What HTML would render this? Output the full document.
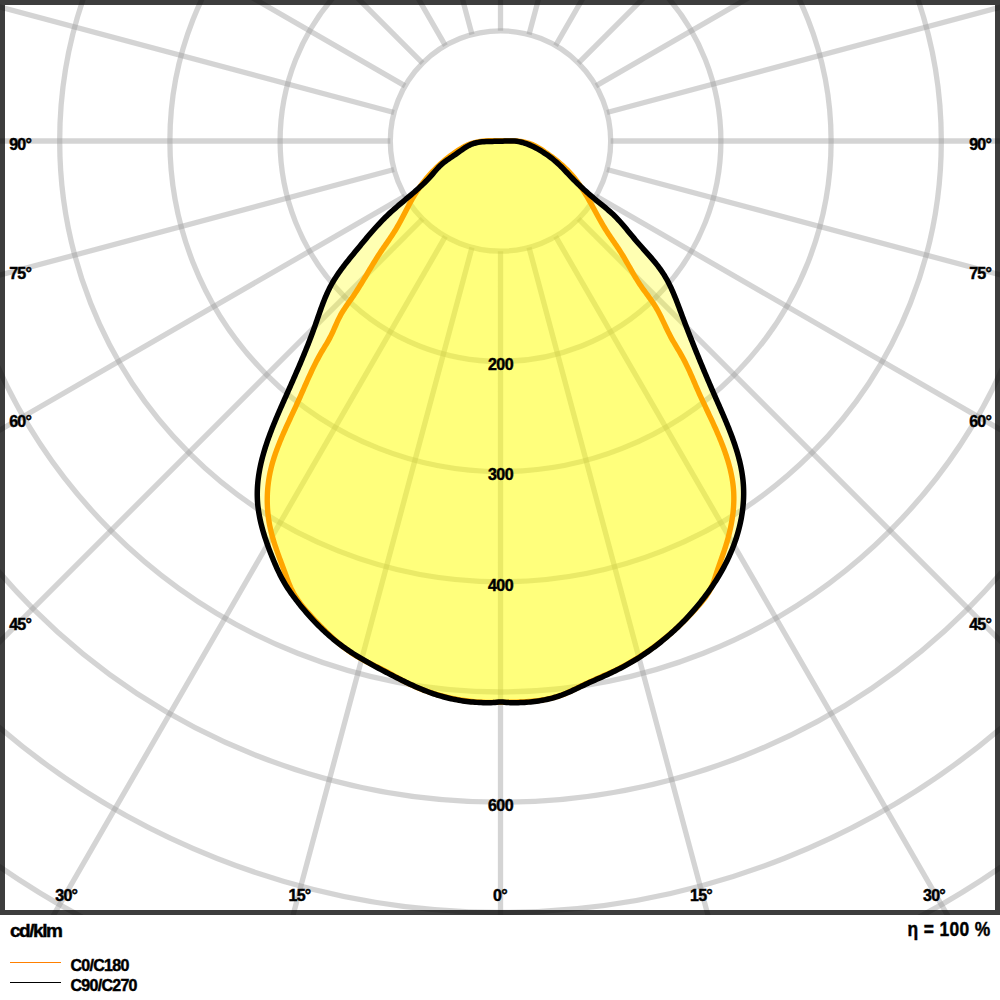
<!DOCTYPE html>
<html><head><meta charset="utf-8"><style>
html,body{margin:0;padding:0;background:#fff;}
svg{display:block;}
text{font-family:"Liberation Sans",sans-serif;font-weight:bold;fill:#000;stroke:#000;stroke-width:0.45px;}
</style></head><body>
<svg width="1000" height="1000" viewBox="0 0 1000 1000">
<defs><clipPath id="c"><rect x="0" y="0" width="1000" height="915"/></clipPath></defs>
<rect x="0" y="0" width="1000" height="1000" fill="#fff"/>
<g clip-path="url(#c)" fill="none" stroke="rgba(160,160,160,0.45)" stroke-width="5.3">
<g><circle cx="500.5" cy="141.0" r="110.2"/><circle cx="500.5" cy="141.0" r="220.4"/><circle cx="500.5" cy="141.0" r="330.6"/><circle cx="500.5" cy="141.0" r="440.8"/><circle cx="500.5" cy="141.0" r="551.0"/><circle cx="500.5" cy="141.0" r="661.2"/><circle cx="500.5" cy="141.0" r="771.4"/><circle cx="500.5" cy="141.0" r="881.6"/><circle cx="500.5" cy="141.0" r="991.8"/></g>
<path d="M500.50,251.20L500.50,1541.00M529.02,247.45L862.85,1493.30M555.60,236.44L1200.50,1353.44M578.42,218.92L1490.45,1130.95M595.94,196.10L1712.94,841.00M606.95,169.52L1852.80,503.35M610.70,141.00L1900.50,141.00M606.95,112.48L1852.80,-221.35M595.94,85.90L1712.94,-559.00M578.42,63.08L1490.45,-848.95M555.60,45.56L1200.50,-1071.44M529.02,34.55L862.85,-1211.30M500.50,30.80L500.50,-1259.00M471.98,34.55L138.15,-1211.30M445.40,45.56L-199.50,-1071.44M422.58,63.08L-489.45,-848.95M405.06,85.90L-711.94,-559.00M394.05,112.48L-851.80,-221.35M390.30,141.00L-899.50,141.00M394.05,169.52L-851.80,503.35M405.06,196.10L-711.94,841.00M422.58,218.92L-489.45,1130.95M445.40,236.44L-199.50,1353.44M471.98,247.45L138.15,1493.30"/>
</g>
<rect x="2.5" y="2.5" width="995" height="910" fill="none" stroke="rgba(0,0,0,0.76)" stroke-width="5"/>
<path d="M500.59,141.28 L498.52,141.33 L496.46,141.35 L494.39,141.36 L492.33,141.38 L490.28,141.40 L488.23,141.44 L486.20,141.52 L484.19,141.63 L482.19,141.80 L480.22,142.04 L478.27,142.35 L476.35,142.74 L474.45,143.24 L472.60,143.84 L470.77,144.55 L468.99,145.40 L467.24,146.35 L465.51,147.39 L463.81,148.50 L462.13,149.66 L460.46,150.86 L458.79,152.07 L457.12,153.27 L455.45,154.45 L453.77,155.59 L452.09,156.71 L450.42,157.82 L448.76,158.93 L447.13,160.05 L445.52,161.20 L443.95,162.40 L442.42,163.64 L440.94,164.96 L439.51,166.34 L438.13,167.77 L436.78,169.25 L435.44,170.77 L434.12,172.30 L432.80,173.83 L431.47,175.36 L430.13,176.87 L428.76,178.36 L427.37,179.82 L425.96,181.26 L424.53,182.68 L423.09,184.09 L421.63,185.47 L420.15,186.84 L418.67,188.20 L417.17,189.54 L415.66,190.88 L414.15,192.20 L412.62,193.51 L411.09,194.82 L409.55,196.12 L408.01,197.42 L406.47,198.71 L404.93,200.00 L403.39,201.29 L401.85,202.59 L400.31,203.88 L398.78,205.18 L397.25,206.49 L395.73,207.80 L394.22,209.12 L392.71,210.45 L391.22,211.80 L389.74,213.15 L388.28,214.52 L386.83,215.90 L385.39,217.30 L383.97,218.72 L382.56,220.15 L381.17,221.59 L379.78,223.04 L378.41,224.51 L377.05,225.99 L375.70,227.48 L374.36,228.98 L373.03,230.48 L371.70,232.00 L370.39,233.52 L369.08,235.05 L367.78,236.59 L366.48,238.13 L365.18,239.67 L363.89,241.22 L362.61,242.78 L361.32,244.33 L360.04,245.89 L358.76,247.44 L357.48,249.00 L356.20,250.56 L354.92,252.11 L353.64,253.67 L352.36,255.23 L351.09,256.78 L349.82,258.34 L348.55,259.91 L347.30,261.48 L346.05,263.05 L344.82,264.63 L343.60,266.22 L342.39,267.82 L341.20,269.43 L340.03,271.04 L338.88,272.67 L337.74,274.32 L336.63,275.97 L335.55,277.65 L334.48,279.33 L333.45,281.04 L332.44,282.76 L331.47,284.50 L330.52,286.26 L329.60,288.04 L328.72,289.84 L327.86,291.66 L327.02,293.49 L326.21,295.33 L325.42,297.19 L324.65,299.06 L323.89,300.94 L323.16,302.83 L322.44,304.73 L321.73,306.63 L321.03,308.55 L320.34,310.46 L319.67,312.38 L318.99,314.31 L318.32,316.23 L317.66,318.15 L316.99,320.08 L316.33,322.00 L315.66,323.91 L314.99,325.83 L314.31,327.73 L313.63,329.63 L312.94,331.53 L312.24,333.42 L311.54,335.30 L310.83,337.18 L310.12,339.05 L309.40,340.92 L308.68,342.78 L307.95,344.64 L307.22,346.50 L306.48,348.35 L305.73,350.20 L304.98,352.04 L304.23,353.89 L303.47,355.73 L302.71,357.56 L301.95,359.40 L301.18,361.23 L300.40,363.06 L299.63,364.89 L298.84,366.72 L298.06,368.55 L297.27,370.38 L296.48,372.21 L295.69,374.03 L294.89,375.86 L294.09,377.69 L293.29,379.51 L292.49,381.34 L291.68,383.17 L290.87,385.00 L290.06,386.83 L289.25,388.67 L288.43,390.50 L287.62,392.34 L286.80,394.18 L285.98,396.03 L285.16,397.87 L284.34,399.73 L283.52,401.58 L282.69,403.44 L281.87,405.30 L281.05,407.16 L280.24,409.02 L279.42,410.89 L278.62,412.77 L277.81,414.64 L277.01,416.52 L276.22,418.40 L275.43,420.29 L274.65,422.18 L273.88,424.07 L273.11,425.96 L272.36,427.86 L271.61,429.76 L270.88,431.66 L270.16,433.56 L269.45,435.47 L268.75,437.38 L268.07,439.29 L267.40,441.21 L266.74,443.13 L266.10,445.05 L265.48,446.97 L264.88,448.90 L264.29,450.82 L263.72,452.75 L263.17,454.69 L262.64,456.62 L262.13,458.56 L261.64,460.50 L261.18,462.44 L260.73,464.39 L260.31,466.33 L259.91,468.28 L259.54,470.24 L259.20,472.19 L258.88,474.14 L258.58,476.10 L258.32,478.06 L258.08,480.02 L257.87,481.99 L257.69,483.95 L257.54,485.92 L257.43,487.89 L257.34,489.86 L257.29,491.83 L257.26,493.81 L257.28,495.78 L257.33,497.76 L257.41,499.74 L257.53,501.72 L257.68,503.71 L257.87,505.69 L258.10,507.68 L258.36,509.66 L258.65,511.65 L258.98,513.64 L259.33,515.62 L259.72,517.61 L260.13,519.59 L260.57,521.57 L261.03,523.55 L261.53,525.52 L262.04,527.50 L262.58,529.47 L263.14,531.43 L263.72,533.39 L264.32,535.35 L264.94,537.30 L265.58,539.25 L266.23,541.19 L266.90,543.12 L267.59,545.05 L268.28,546.97 L268.99,548.88 L269.71,550.79 L270.45,552.68 L271.18,554.57 L271.93,556.45 L272.69,558.32 L273.45,560.18 L274.22,562.03 L275.00,563.87 L275.80,565.70 L276.61,567.52 L277.43,569.33 L278.27,571.12 L279.13,572.91 L280.00,574.68 L280.90,576.44 L281.82,578.19 L282.76,579.93 L283.73,581.65 L284.72,583.37 L285.74,585.06 L286.79,586.75 L287.87,588.42 L288.97,590.08 L290.10,591.73 L291.24,593.37 L292.41,595.00 L293.60,596.62 L294.80,598.23 L296.02,599.83 L297.25,601.42 L298.50,603.01 L299.75,604.59 L301.02,606.16 L302.30,607.72 L303.60,609.27 L304.90,610.82 L306.22,612.35 L307.55,613.88 L308.89,615.39 L310.24,616.90 L311.60,618.39 L312.98,619.88 L314.37,621.35 L315.77,622.81 L317.18,624.26 L318.60,625.69 L320.04,627.11 L321.49,628.52 L322.95,629.92 L324.42,631.30 L325.90,632.67 L327.40,634.02 L328.91,635.36 L330.42,636.69 L331.96,637.99 L333.50,639.29 L335.05,640.56 L336.62,641.82 L338.20,643.06 L339.79,644.28 L341.40,645.49 L343.01,646.68 L344.64,647.85 L346.28,649.00 L347.93,650.13 L349.59,651.25 L351.26,652.36 L352.94,653.44 L354.63,654.52 L356.33,655.58 L358.03,656.63 L359.75,657.66 L361.47,658.69 L363.20,659.70 L364.93,660.71 L366.68,661.70 L368.42,662.68 L370.18,663.66 L371.93,664.63 L373.70,665.59 L375.46,666.55 L377.23,667.50 L379.01,668.45 L380.78,669.39 L382.56,670.33 L384.34,671.27 L386.12,672.20 L387.91,673.14 L389.69,674.07 L391.48,674.99 L393.26,675.92 L395.05,676.84 L396.85,677.75 L398.64,678.66 L400.44,679.56 L402.24,680.45 L404.04,681.34 L405.85,682.21 L407.66,683.08 L409.48,683.94 L411.30,684.78 L413.13,685.62 L414.96,686.44 L416.80,687.25 L418.64,688.04 L420.49,688.82 L422.34,689.58 L424.20,690.33 L426.07,691.06 L427.94,691.77 L429.82,692.47 L431.71,693.14 L433.61,693.80 L435.51,694.43 L437.43,695.05 L439.35,695.64 L441.28,696.21 L443.22,696.76 L445.16,697.28 L447.12,697.78 L449.08,698.25 L451.05,698.70 L453.03,699.13 L455.01,699.54 L456.99,699.92 L458.99,700.27 L460.98,700.61 L462.98,700.91 L464.98,701.20 L466.99,701.46 L468.99,701.69 L471.00,701.90 L473.01,702.09 L475.02,702.25 L477.02,702.38 L479.03,702.49 L481.04,702.58 L483.04,702.64 L485.04,702.68 L487.04,702.69 L489.04,702.68 L491.03,702.63 L493.01,702.55 L494.97,702.40 L496.90,702.19 L498.82,701.99 L500.73,701.91 L502.64,702.02 L504.56,702.24 L506.50,702.43 L508.45,702.56 L510.42,702.63 L512.41,702.67 L514.40,702.68 L516.40,702.67 L518.40,702.64 L520.41,702.58 L522.43,702.51 L524.44,702.41 L526.46,702.28 L528.48,702.13 L530.49,701.95 L532.51,701.74 L534.52,701.51 L536.54,701.25 L538.54,700.96 L540.54,700.64 L542.54,700.29 L544.53,699.91 L546.51,699.50 L548.48,699.05 L550.44,698.58 L552.39,698.07 L554.33,697.52 L556.25,696.95 L558.16,696.33 L560.06,695.68 L561.94,695.00 L563.80,694.28 L565.66,693.53 L567.50,692.76 L569.33,691.96 L571.16,691.15 L572.98,690.31 L574.79,689.47 L576.60,688.61 L578.41,687.75 L580.22,686.89 L582.03,686.02 L583.84,685.16 L585.66,684.31 L587.48,683.46 L589.31,682.62 L591.15,681.79 L592.98,680.97 L594.82,680.15 L596.66,679.34 L598.51,678.52 L600.35,677.71 L602.19,676.89 L604.03,676.07 L605.87,675.24 L607.71,674.41 L609.54,673.56 L611.36,672.71 L613.18,671.85 L614.99,670.97 L616.80,670.08 L618.60,669.17 L620.38,668.26 L622.17,667.32 L623.94,666.37 L625.71,665.41 L627.46,664.44 L629.21,663.45 L630.96,662.44 L632.69,661.43 L634.42,660.39 L636.13,659.35 L637.84,658.29 L639.54,657.21 L641.23,656.12 L642.91,655.02 L644.59,653.91 L646.25,652.78 L647.90,651.63 L649.55,650.47 L651.19,649.30 L652.81,648.12 L654.43,646.92 L656.04,645.71 L657.64,644.48 L659.22,643.24 L660.80,641.99 L662.37,640.73 L663.93,639.45 L665.48,638.16 L667.02,636.86 L668.54,635.54 L670.06,634.22 L671.57,632.88 L673.06,631.53 L674.54,630.16 L676.02,628.79 L677.48,627.40 L678.93,626.00 L680.37,624.59 L681.80,623.17 L683.22,621.74 L684.62,620.30 L686.02,618.84 L687.40,617.37 L688.77,615.90 L690.13,614.41 L691.48,612.91 L692.81,611.40 L694.13,609.89 L695.44,608.36 L696.74,606.82 L698.03,605.27 L699.30,603.71 L700.56,602.14 L701.80,600.56 L703.04,598.97 L704.26,597.38 L705.47,595.77 L706.66,594.15 L707.84,592.53 L709.01,590.89 L710.16,589.25 L711.30,587.60 L712.43,585.94 L713.54,584.27 L714.64,582.59 L715.72,580.90 L716.79,579.20 L717.84,577.50 L718.88,575.78 L719.90,574.06 L720.90,572.33 L721.89,570.59 L722.86,568.83 L723.81,567.07 L724.74,565.30 L725.66,563.52 L726.56,561.73 L727.44,559.93 L728.30,558.13 L729.14,556.31 L729.96,554.48 L730.76,552.64 L731.54,550.79 L732.30,548.93 L733.04,547.06 L733.75,545.19 L734.45,543.30 L735.12,541.40 L735.77,539.49 L736.40,537.57 L737.01,535.64 L737.59,533.70 L738.15,531.75 L738.68,529.79 L739.19,527.82 L739.67,525.85 L740.13,523.87 L740.56,521.88 L740.97,519.89 L741.35,517.89 L741.70,515.89 L742.02,513.88 L742.32,511.87 L742.59,509.86 L742.82,507.85 L743.03,505.83 L743.21,503.82 L743.36,501.80 L743.48,499.79 L743.57,497.78 L743.63,495.76 L743.66,493.75 L743.65,491.75 L743.61,489.75 L743.54,487.75 L743.44,485.75 L743.30,483.77 L743.13,481.78 L742.93,479.80 L742.70,477.83 L742.44,475.86 L742.15,473.90 L741.84,471.94 L741.49,469.98 L741.12,468.03 L740.73,466.08 L740.30,464.14 L739.86,462.20 L739.39,460.26 L738.90,458.33 L738.38,456.40 L737.85,454.48 L737.29,452.56 L736.72,450.64 L736.12,448.73 L735.51,446.82 L734.88,444.91 L734.23,443.01 L733.57,441.11 L732.89,439.21 L732.20,437.31 L731.50,435.42 L730.78,433.53 L730.05,431.65 L729.31,429.76 L728.56,427.88 L727.80,426.00 L727.03,424.12 L726.25,422.25 L725.47,420.38 L724.67,418.51 L723.88,416.64 L723.08,414.77 L722.27,412.91 L721.46,411.05 L720.65,409.19 L719.83,407.33 L719.02,405.47 L718.20,403.61 L717.38,401.76 L716.57,399.90 L715.76,398.05 L714.95,396.20 L714.14,394.35 L713.33,392.50 L712.53,390.65 L711.73,388.80 L710.93,386.95 L710.14,385.11 L709.35,383.26 L708.56,381.42 L707.77,379.57 L706.99,377.72 L706.20,375.88 L705.42,374.03 L704.65,372.19 L703.87,370.34 L703.10,368.50 L702.33,366.65 L701.56,364.80 L700.80,362.96 L700.03,361.11 L699.27,359.26 L698.51,357.41 L697.76,355.56 L697.01,353.71 L696.25,351.86 L695.50,350.01 L694.76,348.15 L694.01,346.30 L693.27,344.44 L692.53,342.58 L691.79,340.72 L691.05,338.86 L690.32,337.00 L689.59,335.13 L688.86,333.27 L688.13,331.40 L687.41,329.53 L686.68,327.66 L685.96,325.78 L685.24,323.90 L684.52,322.02 L683.81,320.14 L683.09,318.26 L682.38,316.37 L681.67,314.48 L680.96,312.59 L680.26,310.69 L679.55,308.80 L678.84,306.90 L678.12,305.01 L677.40,303.11 L676.67,301.23 L675.93,299.34 L675.18,297.46 L674.42,295.59 L673.64,293.73 L672.85,291.88 L672.04,290.04 L671.20,288.20 L670.35,286.39 L669.47,284.58 L668.57,282.79 L667.64,281.02 L666.68,279.27 L665.69,277.53 L664.67,275.81 L663.61,274.12 L662.52,272.45 L661.40,270.79 L660.24,269.16 L659.06,267.54 L657.85,265.94 L656.61,264.36 L655.36,262.79 L654.08,261.23 L652.79,259.68 L651.48,258.14 L650.16,256.61 L648.82,255.09 L647.48,253.57 L646.14,252.06 L644.79,250.55 L643.43,249.04 L642.08,247.53 L640.73,246.02 L639.39,244.51 L638.05,242.99 L636.72,241.46 L635.41,239.93 L634.11,238.40 L632.82,236.85 L631.53,235.30 L630.26,233.75 L628.99,232.20 L627.71,230.65 L626.44,229.11 L625.16,227.57 L623.88,226.04 L622.58,224.52 L621.27,223.01 L619.95,221.52 L618.60,220.04 L617.24,218.59 L615.85,217.15 L614.44,215.74 L612.99,214.36 L611.52,213.00 L610.02,211.66 L608.50,210.34 L606.97,209.03 L605.41,207.74 L603.85,206.46 L602.28,205.18 L600.71,203.90 L599.14,202.62 L597.57,201.34 L596.00,200.05 L594.45,198.76 L592.91,197.45 L591.37,196.14 L589.84,194.82 L588.32,193.49 L586.82,192.15 L585.32,190.81 L583.83,189.45 L582.35,188.09 L580.88,186.72 L579.42,185.34 L577.97,183.95 L576.54,182.55 L575.11,181.14 L573.70,179.72 L572.30,178.30 L570.91,176.86 L569.53,175.42 L568.17,173.96 L566.80,172.51 L565.44,171.05 L564.07,169.60 L562.69,168.17 L561.28,166.74 L559.86,165.34 L558.41,163.97 L556.92,162.62 L555.41,161.29 L553.87,160.00 L552.30,158.73 L550.71,157.49 L549.09,156.28 L547.45,155.11 L545.78,153.96 L544.10,152.84 L542.40,151.75 L540.67,150.69 L538.93,149.67 L537.18,148.68 L535.41,147.72 L533.62,146.80 L531.82,145.94 L529.99,145.12 L528.16,144.36 L526.30,143.66 L524.43,143.03 L522.54,142.47 L520.63,142.00 L518.70,141.60 L516.75,141.30 L514.78,141.09 L512.80,140.98 L510.79,140.95 L508.77,140.97 L506.74,141.03 L504.70,141.12 L502.65,141.21 L500.59,141.28Z" fill="rgba(255,255,0,0.30)"/>
<path d="M500.50,140.60 L498.47,140.60 L496.46,140.61 L494.44,140.63 L492.43,140.66 L490.43,140.71 L488.44,140.79 L486.46,140.90 L484.49,141.05 L482.53,141.25 L480.59,141.49 L478.67,141.79 L476.77,142.15 L474.88,142.58 L473.02,143.08 L471.17,143.66 L469.36,144.32 L467.57,145.07 L465.80,145.89 L464.05,146.78 L462.33,147.73 L460.62,148.74 L458.94,149.79 L457.27,150.88 L455.62,152.01 L453.99,153.15 L452.37,154.32 L450.77,155.51 L449.18,156.71 L447.61,157.94 L446.06,159.18 L444.53,160.45 L443.01,161.73 L441.51,163.04 L440.03,164.36 L438.57,165.70 L437.12,167.06 L435.70,168.44 L434.29,169.83 L432.91,171.25 L431.55,172.68 L430.20,174.14 L428.88,175.61 L427.58,177.09 L426.31,178.60 L425.05,180.12 L423.82,181.66 L422.61,183.22 L421.42,184.80 L420.26,186.39 L419.12,188.00 L418.01,189.63 L416.92,191.27 L415.85,192.93 L414.81,194.61 L413.80,196.30 L412.80,198.00 L411.82,199.72 L410.85,201.44 L409.90,203.18 L408.96,204.92 L408.03,206.67 L407.11,208.42 L406.19,210.18 L405.28,211.93 L404.37,213.69 L403.45,215.45 L402.53,217.21 L401.61,218.96 L400.68,220.70 L399.73,222.44 L398.78,224.18 L397.81,225.90 L396.83,227.61 L395.83,229.31 L394.80,231.00 L393.76,232.67 L392.69,234.33 L391.61,235.98 L390.51,237.62 L389.40,239.25 L388.29,240.87 L387.16,242.50 L386.04,244.12 L384.91,245.74 L383.78,247.36 L382.66,248.98 L381.55,250.61 L380.45,252.25 L379.36,253.90 L378.29,255.55 L377.23,257.21 L376.17,258.88 L375.13,260.56 L374.09,262.24 L373.07,263.93 L372.04,265.62 L371.03,267.31 L370.01,269.01 L369.00,270.70 L367.99,272.40 L366.98,274.10 L365.97,275.80 L364.96,277.50 L363.94,279.20 L362.92,280.89 L361.89,282.58 L360.86,284.27 L359.82,285.95 L358.78,287.63 L357.72,289.30 L356.65,290.96 L355.57,292.62 L354.47,294.26 L353.36,295.90 L352.24,297.53 L351.11,299.15 L349.97,300.77 L348.82,302.39 L347.69,304.01 L346.56,305.63 L345.45,307.26 L344.36,308.90 L343.29,310.56 L342.25,312.23 L341.25,313.93 L340.29,315.65 L339.38,317.39 L338.50,319.16 L337.66,320.95 L336.84,322.75 L336.03,324.56 L335.23,326.37 L334.43,328.18 L333.63,329.99 L332.81,331.79 L331.97,333.59 L331.11,335.37 L330.23,337.13 L329.30,338.88 L328.35,340.60 L327.37,342.31 L326.36,344.01 L325.34,345.71 L324.32,347.39 L323.30,349.08 L322.28,350.77 L321.28,352.47 L320.30,354.18 L319.33,355.90 L318.39,357.63 L317.46,359.37 L316.54,361.11 L315.64,362.87 L314.76,364.63 L313.88,366.40 L313.02,368.18 L312.17,369.96 L311.32,371.75 L310.49,373.54 L309.66,375.33 L308.84,377.13 L308.03,378.94 L307.22,380.74 L306.42,382.55 L305.61,384.36 L304.82,386.17 L304.02,387.98 L303.23,389.80 L302.43,391.61 L301.63,393.42 L300.84,395.23 L300.04,397.03 L299.23,398.84 L298.43,400.64 L297.62,402.44 L296.80,404.23 L295.98,406.02 L295.15,407.81 L294.32,409.60 L293.49,411.38 L292.66,413.17 L291.83,414.95 L291.00,416.73 L290.16,418.52 L289.33,420.31 L288.51,422.10 L287.68,423.89 L286.86,425.68 L286.04,427.48 L285.23,429.28 L284.42,431.09 L283.62,432.90 L282.82,434.72 L282.04,436.54 L281.27,438.37 L280.50,440.20 L279.75,442.04 L279.01,443.89 L278.28,445.73 L277.57,447.59 L276.88,449.45 L276.20,451.31 L275.54,453.18 L274.90,455.06 L274.28,456.94 L273.68,458.83 L273.10,460.72 L272.55,462.62 L272.01,464.53 L271.51,466.44 L271.03,468.36 L270.58,470.28 L270.15,472.21 L269.76,474.14 L269.39,476.09 L269.06,478.03 L268.75,479.98 L268.47,481.94 L268.22,483.90 L267.99,485.86 L267.80,487.82 L267.64,489.79 L267.50,491.76 L267.40,493.73 L267.32,495.71 L267.27,497.68 L267.25,499.65 L267.26,501.63 L267.30,503.60 L267.37,505.57 L267.47,507.54 L267.59,509.51 L267.75,511.48 L267.93,513.44 L268.15,515.40 L268.39,517.36 L268.66,519.31 L268.96,521.26 L269.29,523.20 L269.65,525.14 L270.04,527.07 L270.45,528.99 L270.90,530.91 L271.37,532.83 L271.87,534.73 L272.39,536.64 L272.93,538.54 L273.49,540.43 L274.07,542.32 L274.67,544.21 L275.29,546.09 L275.92,547.97 L276.57,549.84 L277.22,551.72 L277.89,553.59 L278.56,555.46 L279.25,557.33 L279.94,559.20 L280.63,561.06 L281.33,562.93 L282.03,564.80 L282.72,566.66 L283.42,568.53 L284.12,570.40 L284.81,572.26 L285.49,574.13 L286.17,576.00 L286.85,577.87 L287.54,579.74 L288.24,581.59 L288.96,583.43 L289.71,585.26 L290.49,587.06 L291.31,588.84 L292.17,590.60 L293.08,592.33 L294.04,594.03 L295.04,595.71 L296.08,597.36 L297.17,598.99 L298.28,600.60 L299.43,602.19 L300.62,603.77 L301.82,605.32 L303.06,606.86 L304.32,608.39 L305.60,609.90 L306.89,611.40 L308.21,612.89 L309.53,614.38 L310.86,615.85 L312.21,617.32 L313.56,618.79 L314.91,620.25 L316.27,621.71 L317.64,623.15 L319.01,624.59 L320.40,626.03 L321.79,627.45 L323.19,628.86 L324.60,630.27 L326.01,631.66 L327.44,633.04 L328.87,634.41 L330.32,635.77 L331.78,637.11 L333.24,638.44 L334.72,639.76 L336.21,641.06 L337.71,642.34 L339.23,643.61 L340.75,644.86 L342.29,646.09 L343.84,647.30 L345.41,648.50 L346.99,649.67 L348.58,650.82 L350.19,651.96 L351.82,653.07 L353.45,654.15 L355.11,655.22 L356.78,656.26 L358.47,657.28 L360.17,658.27 L361.89,659.23 L363.62,660.18 L365.37,661.10 L367.13,662.01 L368.90,662.90 L370.67,663.78 L372.45,664.66 L374.24,665.53 L376.02,666.39 L377.81,667.26 L379.59,668.14 L381.37,669.02 L383.14,669.91 L384.90,670.81 L386.65,671.73 L388.39,672.67 L390.13,673.61 L391.85,674.57 L393.58,675.54 L395.30,676.50 L397.02,677.47 L398.74,678.43 L400.47,679.38 L402.20,680.32 L403.95,681.24 L405.70,682.14 L407.47,683.03 L409.24,683.89 L411.03,684.74 L412.83,685.57 L414.63,686.38 L416.44,687.17 L418.27,687.94 L420.10,688.69 L421.94,689.43 L423.79,690.14 L425.64,690.83 L427.50,691.51 L429.38,692.16 L431.25,692.79 L433.14,693.41 L435.03,694.01 L436.92,694.58 L438.83,695.14 L440.74,695.67 L442.65,696.19 L444.57,696.68 L446.49,697.16 L448.42,697.61 L450.35,698.05 L452.29,698.46 L454.23,698.86 L456.17,699.23 L458.12,699.58 L460.06,699.92 L462.02,700.23 L463.97,700.52 L465.92,700.79 L467.88,701.04 L469.84,701.27 L471.80,701.48 L473.76,701.67 L475.72,701.84 L477.69,701.98 L479.65,702.11 L481.61,702.21 L483.57,702.29 L485.53,702.35 L487.49,702.39 L489.45,702.41 L491.41,702.41 L493.36,702.39 L495.31,702.36 L497.27,702.33 L499.22,702.30 L501.17,702.28 L503.12,702.26 L505.07,702.24 L507.02,702.23 L508.98,702.21 L510.93,702.19 L512.89,702.16 L514.85,702.12 L516.81,702.08 L518.77,702.02 L520.73,701.96 L522.69,701.88 L524.66,701.78 L526.62,701.67 L528.59,701.54 L530.55,701.39 L532.52,701.22 L534.48,701.02 L536.45,700.81 L538.41,700.56 L540.38,700.29 L542.34,699.99 L544.30,699.66 L546.26,699.30 L548.22,698.90 L550.16,698.47 L552.10,698.00 L554.02,697.50 L555.93,696.96 L557.83,696.37 L559.70,695.75 L561.56,695.08 L563.40,694.37 L565.23,693.63 L567.04,692.86 L568.84,692.06 L570.63,691.23 L572.41,690.39 L574.18,689.53 L575.95,688.66 L577.72,687.78 L579.49,686.90 L581.25,686.02 L583.03,685.14 L584.80,684.27 L586.58,683.41 L588.37,682.57 L590.17,681.73 L591.97,680.91 L593.78,680.10 L595.59,679.29 L597.40,678.49 L599.21,677.69 L601.03,676.89 L602.84,676.09 L604.65,675.29 L606.46,674.48 L608.27,673.67 L610.07,672.85 L611.87,672.01 L613.66,671.17 L615.44,670.31 L617.21,669.43 L618.98,668.54 L620.74,667.64 L622.49,666.72 L624.23,665.79 L625.96,664.84 L627.69,663.88 L629.41,662.91 L631.12,661.92 L632.82,660.92 L634.51,659.90 L636.20,658.88 L637.87,657.83 L639.54,656.78 L641.20,655.71 L642.86,654.63 L644.50,653.54 L646.14,652.43 L647.76,651.31 L649.38,650.18 L650.99,649.03 L652.59,647.88 L654.19,646.71 L655.77,645.53 L657.35,644.33 L658.92,643.13 L660.47,641.91 L662.02,640.68 L663.57,639.44 L665.10,638.19 L666.62,636.93 L668.14,635.65 L669.65,634.37 L671.14,633.07 L672.63,631.76 L674.11,630.44 L675.58,629.11 L677.04,627.77 L678.50,626.42 L679.94,625.06 L681.38,623.69 L682.80,622.31 L684.22,620.92 L685.63,619.52 L687.03,618.11 L688.42,616.69 L689.80,615.25 L691.17,613.81 L692.53,612.36 L693.88,610.91 L695.22,609.44 L696.56,607.96 L697.88,606.47 L699.19,604.98 L700.49,603.47 L701.76,601.95 L703.01,600.41 L704.23,598.85 L705.40,597.27 L706.54,595.66 L707.63,594.04 L708.67,592.38 L709.65,590.69 L710.58,588.98 L711.43,587.23 L712.22,585.44 L712.95,583.62 L713.62,581.78 L714.26,579.91 L714.88,578.04 L715.48,576.15 L716.08,574.27 L716.70,572.39 L717.32,570.52 L717.96,568.65 L718.61,566.78 L719.26,564.92 L719.91,563.06 L720.57,561.20 L721.23,559.34 L721.89,557.48 L722.54,555.61 L723.19,553.75 L723.82,551.88 L724.45,550.00 L725.07,548.12 L725.67,546.23 L726.25,544.33 L726.82,542.43 L727.38,540.52 L727.91,538.60 L728.43,536.68 L728.93,534.75 L729.40,532.82 L729.86,530.88 L730.30,528.94 L730.71,527.00 L731.10,525.05 L731.47,523.10 L731.82,521.14 L732.14,519.18 L732.43,517.22 L732.70,515.26 L732.94,513.30 L733.16,511.34 L733.35,509.37 L733.51,507.41 L733.63,505.44 L733.73,503.47 L733.80,501.51 L733.84,499.55 L733.84,497.59 L733.81,495.62 L733.75,493.67 L733.66,491.71 L733.52,489.76 L733.36,487.81 L733.16,485.86 L732.93,483.92 L732.66,481.97 L732.37,480.04 L732.04,478.10 L731.69,476.17 L731.30,474.24 L730.89,472.32 L730.46,470.40 L729.99,468.48 L729.51,466.57 L728.99,464.66 L728.46,462.75 L727.90,460.85 L727.32,458.95 L726.72,457.06 L726.10,455.17 L725.46,453.28 L724.80,451.40 L724.13,449.53 L723.44,447.65 L722.73,445.79 L722.01,443.92 L721.27,442.06 L720.53,440.21 L719.77,438.36 L718.99,436.52 L718.21,434.68 L717.42,432.84 L716.62,431.01 L715.82,429.19 L715.00,427.37 L714.18,425.56 L713.36,423.75 L712.53,421.94 L711.69,420.15 L710.86,418.36 L710.02,416.57 L709.18,414.79 L708.34,413.01 L707.50,411.24 L706.67,409.48 L705.83,407.71 L705.00,405.95 L704.17,404.19 L703.34,402.42 L702.51,400.66 L701.69,398.89 L700.87,397.11 L700.05,395.33 L699.25,393.55 L698.44,391.76 L697.64,389.96 L696.85,388.15 L696.07,386.33 L695.28,384.50 L694.50,382.67 L693.71,380.84 L692.93,379.01 L692.13,377.18 L691.33,375.36 L690.52,373.54 L689.70,371.74 L688.87,369.94 L688.03,368.15 L687.17,366.36 L686.30,364.59 L685.42,362.82 L684.52,361.07 L683.61,359.32 L682.68,357.58 L681.74,355.85 L680.78,354.13 L679.81,352.42 L678.81,350.72 L677.80,349.02 L676.79,347.33 L675.77,345.64 L674.76,343.95 L673.76,342.25 L672.77,340.54 L671.80,338.83 L670.85,337.10 L669.93,335.35 L669.03,333.59 L668.16,331.82 L667.29,330.04 L666.44,328.26 L665.59,326.47 L664.75,324.68 L663.91,322.89 L663.07,321.10 L662.22,319.32 L661.36,317.54 L660.48,315.77 L659.59,314.01 L658.68,312.27 L657.74,310.53 L656.78,308.82 L655.78,307.12 L654.75,305.44 L653.68,303.78 L652.58,302.14 L651.46,300.52 L650.31,298.90 L649.15,297.30 L647.98,295.70 L646.80,294.11 L645.62,292.51 L644.45,290.91 L643.29,289.31 L642.14,287.69 L641.01,286.06 L639.90,284.42 L638.82,282.76 L637.75,281.09 L636.71,279.41 L635.68,277.72 L634.66,276.02 L633.66,274.32 L632.66,272.60 L631.68,270.89 L630.70,269.17 L629.72,267.45 L628.74,265.73 L627.76,264.01 L626.78,262.29 L625.80,260.58 L624.80,258.88 L623.80,257.18 L622.78,255.49 L621.75,253.81 L620.70,252.14 L619.64,250.48 L618.56,248.84 L617.47,247.20 L616.36,245.57 L615.25,243.94 L614.14,242.32 L613.02,240.70 L611.91,239.08 L610.80,237.45 L609.70,235.82 L608.60,234.18 L607.52,232.53 L606.46,230.87 L605.41,229.20 L604.38,227.52 L603.36,225.82 L602.36,224.12 L601.37,222.41 L600.39,220.69 L599.42,218.96 L598.45,217.23 L597.50,215.50 L596.54,213.76 L595.59,212.02 L594.64,210.27 L593.69,208.53 L592.74,206.79 L591.79,205.06 L590.83,203.32 L589.86,201.59 L588.89,199.87 L587.91,198.15 L586.92,196.45 L585.91,194.75 L584.89,193.06 L583.86,191.38 L582.81,189.72 L581.74,188.06 L580.65,186.43 L579.54,184.81 L578.41,183.20 L577.25,181.62 L576.07,180.05 L574.86,178.50 L573.62,176.98 L572.35,175.47 L571.05,173.99 L569.71,172.54 L568.35,171.11 L566.95,169.70 L565.53,168.31 L564.08,166.95 L562.61,165.61 L561.11,164.29 L559.59,162.98 L558.05,161.70 L556.50,160.44 L554.93,159.20 L553.34,157.97 L551.74,156.76 L550.12,155.57 L548.50,154.40 L546.87,153.24 L545.23,152.10 L543.58,150.97 L541.93,149.87 L540.26,148.81 L538.57,147.80 L536.87,146.83 L535.15,145.93 L533.40,145.09 L531.63,144.33 L529.83,143.66 L528.00,143.07 L526.14,142.56 L524.26,142.13 L522.36,141.76 L520.44,141.46 L518.49,141.22 L516.54,141.02 L514.56,140.87 L512.57,140.76 L510.58,140.69 L508.57,140.64 L506.56,140.61 L504.54,140.60 L502.52,140.60 L500.50,140.60Z" fill="rgba(255,255,0,0.30)"/>
<path d="M500.50,140.60 L498.47,140.60 L496.46,140.61 L494.44,140.63 L492.43,140.66 L490.43,140.71 L488.44,140.79 L486.46,140.90 L484.49,141.05 L482.53,141.25 L480.59,141.49 L478.67,141.79 L476.77,142.15 L474.88,142.58 L473.02,143.08 L471.17,143.66 L469.36,144.32 L467.57,145.07 L465.80,145.89 L464.05,146.78 L462.33,147.73 L460.62,148.74 L458.94,149.79 L457.27,150.88 L455.62,152.01 L453.99,153.15 L452.37,154.32 L450.77,155.51 L449.18,156.71 L447.61,157.94 L446.06,159.18 L444.53,160.45 L443.01,161.73 L441.51,163.04 L440.03,164.36 L438.57,165.70 L437.12,167.06 L435.70,168.44 L434.29,169.83 L432.91,171.25 L431.55,172.68 L430.20,174.14 L428.88,175.61 L427.58,177.09 L426.31,178.60 L425.05,180.12 L423.82,181.66 L422.61,183.22 L421.42,184.80 L420.26,186.39 L419.12,188.00 L418.01,189.63 L416.92,191.27 L415.85,192.93 L414.81,194.61 L413.80,196.30 L412.80,198.00 L411.82,199.72 L410.85,201.44 L409.90,203.18 L408.96,204.92 L408.03,206.67 L407.11,208.42 L406.19,210.18 L405.28,211.93 L404.37,213.69 L403.45,215.45 L402.53,217.21 L401.61,218.96 L400.68,220.70 L399.73,222.44 L398.78,224.18 L397.81,225.90 L396.83,227.61 L395.83,229.31 L394.80,231.00 L393.76,232.67 L392.69,234.33 L391.61,235.98 L390.51,237.62 L389.40,239.25 L388.29,240.87 L387.16,242.50 L386.04,244.12 L384.91,245.74 L383.78,247.36 L382.66,248.98 L381.55,250.61 L380.45,252.25 L379.36,253.90 L378.29,255.55 L377.23,257.21 L376.17,258.88 L375.13,260.56 L374.09,262.24 L373.07,263.93 L372.04,265.62 L371.03,267.31 L370.01,269.01 L369.00,270.70 L367.99,272.40 L366.98,274.10 L365.97,275.80 L364.96,277.50 L363.94,279.20 L362.92,280.89 L361.89,282.58 L360.86,284.27 L359.82,285.95 L358.78,287.63 L357.72,289.30 L356.65,290.96 L355.57,292.62 L354.47,294.26 L353.36,295.90 L352.24,297.53 L351.11,299.15 L349.97,300.77 L348.82,302.39 L347.69,304.01 L346.56,305.63 L345.45,307.26 L344.36,308.90 L343.29,310.56 L342.25,312.23 L341.25,313.93 L340.29,315.65 L339.38,317.39 L338.50,319.16 L337.66,320.95 L336.84,322.75 L336.03,324.56 L335.23,326.37 L334.43,328.18 L333.63,329.99 L332.81,331.79 L331.97,333.59 L331.11,335.37 L330.23,337.13 L329.30,338.88 L328.35,340.60 L327.37,342.31 L326.36,344.01 L325.34,345.71 L324.32,347.39 L323.30,349.08 L322.28,350.77 L321.28,352.47 L320.30,354.18 L319.33,355.90 L318.39,357.63 L317.46,359.37 L316.54,361.11 L315.64,362.87 L314.76,364.63 L313.88,366.40 L313.02,368.18 L312.17,369.96 L311.32,371.75 L310.49,373.54 L309.66,375.33 L308.84,377.13 L308.03,378.94 L307.22,380.74 L306.42,382.55 L305.61,384.36 L304.82,386.17 L304.02,387.98 L303.23,389.80 L302.43,391.61 L301.63,393.42 L300.84,395.23 L300.04,397.03 L299.23,398.84 L298.43,400.64 L297.62,402.44 L296.80,404.23 L295.98,406.02 L295.15,407.81 L294.32,409.60 L293.49,411.38 L292.66,413.17 L291.83,414.95 L291.00,416.73 L290.16,418.52 L289.33,420.31 L288.51,422.10 L287.68,423.89 L286.86,425.68 L286.04,427.48 L285.23,429.28 L284.42,431.09 L283.62,432.90 L282.82,434.72 L282.04,436.54 L281.27,438.37 L280.50,440.20 L279.75,442.04 L279.01,443.89 L278.28,445.73 L277.57,447.59 L276.88,449.45 L276.20,451.31 L275.54,453.18 L274.90,455.06 L274.28,456.94 L273.68,458.83 L273.10,460.72 L272.55,462.62 L272.01,464.53 L271.51,466.44 L271.03,468.36 L270.58,470.28 L270.15,472.21 L269.76,474.14 L269.39,476.09 L269.06,478.03 L268.75,479.98 L268.47,481.94 L268.22,483.90 L267.99,485.86 L267.80,487.82 L267.64,489.79 L267.50,491.76 L267.40,493.73 L267.32,495.71 L267.27,497.68 L267.25,499.65 L267.26,501.63 L267.30,503.60 L267.37,505.57 L267.47,507.54 L267.59,509.51 L267.75,511.48 L267.93,513.44 L268.15,515.40 L268.39,517.36 L268.66,519.31 L268.96,521.26 L269.29,523.20 L269.65,525.14 L270.04,527.07 L270.45,528.99 L270.90,530.91 L271.37,532.83 L271.87,534.73 L272.39,536.64 L272.93,538.54 L273.49,540.43 L274.07,542.32 L274.67,544.21 L275.29,546.09 L275.92,547.97 L276.57,549.84 L277.22,551.72 L277.89,553.59 L278.56,555.46 L279.25,557.33 L279.94,559.20 L280.63,561.06 L281.33,562.93 L282.03,564.80 L282.72,566.66 L283.42,568.53 L284.12,570.40 L284.81,572.26 L285.49,574.13 L286.17,576.00 L286.85,577.87 L287.54,579.74 L288.24,581.59 L288.96,583.43 L289.71,585.26 L290.49,587.06 L291.31,588.84 L292.17,590.60 L293.08,592.33 L294.04,594.03 L295.04,595.71 L296.08,597.36 L297.17,598.99 L298.28,600.60 L299.43,602.19 L300.62,603.77 L301.82,605.32 L303.06,606.86 L304.32,608.39 L305.60,609.90 L306.89,611.40 L308.21,612.89 L309.53,614.38 L310.86,615.85 L312.21,617.32 L313.56,618.79 L314.91,620.25 L316.27,621.71 L317.64,623.15 L319.01,624.59 L320.40,626.03 L321.79,627.45 L323.19,628.86 L324.60,630.27 L326.01,631.66 L327.44,633.04 L328.87,634.41 L330.32,635.77 L331.78,637.11 L333.24,638.44 L334.72,639.76 L336.21,641.06 L337.71,642.34 L339.23,643.61 L340.75,644.86 L342.29,646.09 L343.84,647.30 L345.41,648.50 L346.99,649.67 L348.58,650.82 L350.19,651.96 L351.82,653.07 L353.45,654.15 L355.11,655.22 L356.78,656.26 L358.47,657.28 L360.17,658.27 L361.89,659.23 L363.62,660.18 L365.37,661.10 L367.13,662.01 L368.90,662.90 L370.67,663.78 L372.45,664.66 L374.24,665.53 L376.02,666.39 L377.81,667.26 L379.59,668.14 L381.37,669.02 L383.14,669.91 L384.90,670.81 L386.65,671.73 L388.39,672.67 L390.13,673.61 L391.85,674.57 L393.58,675.54 L395.30,676.50 L397.02,677.47 L398.74,678.43 L400.47,679.38 L402.20,680.32 L403.95,681.24 L405.70,682.14 L407.47,683.03 L409.24,683.89 L411.03,684.74 L412.83,685.57 L414.63,686.38 L416.44,687.17 L418.27,687.94 L420.10,688.69 L421.94,689.43 L423.79,690.14 L425.64,690.83 L427.50,691.51 L429.38,692.16 L431.25,692.79 L433.14,693.41 L435.03,694.01 L436.92,694.58 L438.83,695.14 L440.74,695.67 L442.65,696.19 L444.57,696.68 L446.49,697.16 L448.42,697.61 L450.35,698.05 L452.29,698.46 L454.23,698.86 L456.17,699.23 L458.12,699.58 L460.06,699.92 L462.02,700.23 L463.97,700.52 L465.92,700.79 L467.88,701.04 L469.84,701.27 L471.80,701.48 L473.76,701.67 L475.72,701.84 L477.69,701.98 L479.65,702.11 L481.61,702.21 L483.57,702.29 L485.53,702.35 L487.49,702.39 L489.45,702.41 L491.41,702.41 L493.36,702.39 L495.31,702.36 L497.27,702.33 L499.22,702.30 L501.17,702.28 L503.12,702.26 L505.07,702.24 L507.02,702.23 L508.98,702.21 L510.93,702.19 L512.89,702.16 L514.85,702.12 L516.81,702.08 L518.77,702.02 L520.73,701.96 L522.69,701.88 L524.66,701.78 L526.62,701.67 L528.59,701.54 L530.55,701.39 L532.52,701.22 L534.48,701.02 L536.45,700.81 L538.41,700.56 L540.38,700.29 L542.34,699.99 L544.30,699.66 L546.26,699.30 L548.22,698.90 L550.16,698.47 L552.10,698.00 L554.02,697.50 L555.93,696.96 L557.83,696.37 L559.70,695.75 L561.56,695.08 L563.40,694.37 L565.23,693.63 L567.04,692.86 L568.84,692.06 L570.63,691.23 L572.41,690.39 L574.18,689.53 L575.95,688.66 L577.72,687.78 L579.49,686.90 L581.25,686.02 L583.03,685.14 L584.80,684.27 L586.58,683.41 L588.37,682.57 L590.17,681.73 L591.97,680.91 L593.78,680.10 L595.59,679.29 L597.40,678.49 L599.21,677.69 L601.03,676.89 L602.84,676.09 L604.65,675.29 L606.46,674.48 L608.27,673.67 L610.07,672.85 L611.87,672.01 L613.66,671.17 L615.44,670.31 L617.21,669.43 L618.98,668.54 L620.74,667.64 L622.49,666.72 L624.23,665.79 L625.96,664.84 L627.69,663.88 L629.41,662.91 L631.12,661.92 L632.82,660.92 L634.51,659.90 L636.20,658.88 L637.87,657.83 L639.54,656.78 L641.20,655.71 L642.86,654.63 L644.50,653.54 L646.14,652.43 L647.76,651.31 L649.38,650.18 L650.99,649.03 L652.59,647.88 L654.19,646.71 L655.77,645.53 L657.35,644.33 L658.92,643.13 L660.47,641.91 L662.02,640.68 L663.57,639.44 L665.10,638.19 L666.62,636.93 L668.14,635.65 L669.65,634.37 L671.14,633.07 L672.63,631.76 L674.11,630.44 L675.58,629.11 L677.04,627.77 L678.50,626.42 L679.94,625.06 L681.38,623.69 L682.80,622.31 L684.22,620.92 L685.63,619.52 L687.03,618.11 L688.42,616.69 L689.80,615.25 L691.17,613.81 L692.53,612.36 L693.88,610.91 L695.22,609.44 L696.56,607.96 L697.88,606.47 L699.19,604.98 L700.49,603.47 L701.76,601.95 L703.01,600.41 L704.23,598.85 L705.40,597.27 L706.54,595.66 L707.63,594.04 L708.67,592.38 L709.65,590.69 L710.58,588.98 L711.43,587.23 L712.22,585.44 L712.95,583.62 L713.62,581.78 L714.26,579.91 L714.88,578.04 L715.48,576.15 L716.08,574.27 L716.70,572.39 L717.32,570.52 L717.96,568.65 L718.61,566.78 L719.26,564.92 L719.91,563.06 L720.57,561.20 L721.23,559.34 L721.89,557.48 L722.54,555.61 L723.19,553.75 L723.82,551.88 L724.45,550.00 L725.07,548.12 L725.67,546.23 L726.25,544.33 L726.82,542.43 L727.38,540.52 L727.91,538.60 L728.43,536.68 L728.93,534.75 L729.40,532.82 L729.86,530.88 L730.30,528.94 L730.71,527.00 L731.10,525.05 L731.47,523.10 L731.82,521.14 L732.14,519.18 L732.43,517.22 L732.70,515.26 L732.94,513.30 L733.16,511.34 L733.35,509.37 L733.51,507.41 L733.63,505.44 L733.73,503.47 L733.80,501.51 L733.84,499.55 L733.84,497.59 L733.81,495.62 L733.75,493.67 L733.66,491.71 L733.52,489.76 L733.36,487.81 L733.16,485.86 L732.93,483.92 L732.66,481.97 L732.37,480.04 L732.04,478.10 L731.69,476.17 L731.30,474.24 L730.89,472.32 L730.46,470.40 L729.99,468.48 L729.51,466.57 L728.99,464.66 L728.46,462.75 L727.90,460.85 L727.32,458.95 L726.72,457.06 L726.10,455.17 L725.46,453.28 L724.80,451.40 L724.13,449.53 L723.44,447.65 L722.73,445.79 L722.01,443.92 L721.27,442.06 L720.53,440.21 L719.77,438.36 L718.99,436.52 L718.21,434.68 L717.42,432.84 L716.62,431.01 L715.82,429.19 L715.00,427.37 L714.18,425.56 L713.36,423.75 L712.53,421.94 L711.69,420.15 L710.86,418.36 L710.02,416.57 L709.18,414.79 L708.34,413.01 L707.50,411.24 L706.67,409.48 L705.83,407.71 L705.00,405.95 L704.17,404.19 L703.34,402.42 L702.51,400.66 L701.69,398.89 L700.87,397.11 L700.05,395.33 L699.25,393.55 L698.44,391.76 L697.64,389.96 L696.85,388.15 L696.07,386.33 L695.28,384.50 L694.50,382.67 L693.71,380.84 L692.93,379.01 L692.13,377.18 L691.33,375.36 L690.52,373.54 L689.70,371.74 L688.87,369.94 L688.03,368.15 L687.17,366.36 L686.30,364.59 L685.42,362.82 L684.52,361.07 L683.61,359.32 L682.68,357.58 L681.74,355.85 L680.78,354.13 L679.81,352.42 L678.81,350.72 L677.80,349.02 L676.79,347.33 L675.77,345.64 L674.76,343.95 L673.76,342.25 L672.77,340.54 L671.80,338.83 L670.85,337.10 L669.93,335.35 L669.03,333.59 L668.16,331.82 L667.29,330.04 L666.44,328.26 L665.59,326.47 L664.75,324.68 L663.91,322.89 L663.07,321.10 L662.22,319.32 L661.36,317.54 L660.48,315.77 L659.59,314.01 L658.68,312.27 L657.74,310.53 L656.78,308.82 L655.78,307.12 L654.75,305.44 L653.68,303.78 L652.58,302.14 L651.46,300.52 L650.31,298.90 L649.15,297.30 L647.98,295.70 L646.80,294.11 L645.62,292.51 L644.45,290.91 L643.29,289.31 L642.14,287.69 L641.01,286.06 L639.90,284.42 L638.82,282.76 L637.75,281.09 L636.71,279.41 L635.68,277.72 L634.66,276.02 L633.66,274.32 L632.66,272.60 L631.68,270.89 L630.70,269.17 L629.72,267.45 L628.74,265.73 L627.76,264.01 L626.78,262.29 L625.80,260.58 L624.80,258.88 L623.80,257.18 L622.78,255.49 L621.75,253.81 L620.70,252.14 L619.64,250.48 L618.56,248.84 L617.47,247.20 L616.36,245.57 L615.25,243.94 L614.14,242.32 L613.02,240.70 L611.91,239.08 L610.80,237.45 L609.70,235.82 L608.60,234.18 L607.52,232.53 L606.46,230.87 L605.41,229.20 L604.38,227.52 L603.36,225.82 L602.36,224.12 L601.37,222.41 L600.39,220.69 L599.42,218.96 L598.45,217.23 L597.50,215.50 L596.54,213.76 L595.59,212.02 L594.64,210.27 L593.69,208.53 L592.74,206.79 L591.79,205.06 L590.83,203.32 L589.86,201.59 L588.89,199.87 L587.91,198.15 L586.92,196.45 L585.91,194.75 L584.89,193.06 L583.86,191.38 L582.81,189.72 L581.74,188.06 L580.65,186.43 L579.54,184.81 L578.41,183.20 L577.25,181.62 L576.07,180.05 L574.86,178.50 L573.62,176.98 L572.35,175.47 L571.05,173.99 L569.71,172.54 L568.35,171.11 L566.95,169.70 L565.53,168.31 L564.08,166.95 L562.61,165.61 L561.11,164.29 L559.59,162.98 L558.05,161.70 L556.50,160.44 L554.93,159.20 L553.34,157.97 L551.74,156.76 L550.12,155.57 L548.50,154.40 L546.87,153.24 L545.23,152.10 L543.58,150.97 L541.93,149.87 L540.26,148.81 L538.57,147.80 L536.87,146.83 L535.15,145.93 L533.40,145.09 L531.63,144.33 L529.83,143.66 L528.00,143.07 L526.14,142.56 L524.26,142.13 L522.36,141.76 L520.44,141.46 L518.49,141.22 L516.54,141.02 L514.56,140.87 L512.57,140.76 L510.58,140.69 L508.57,140.64 L506.56,140.61 L504.54,140.60 L502.52,140.60 L500.50,140.60Z" fill="none" stroke="#ffa500" stroke-width="5.4" stroke-linejoin="round"/>
<path d="M500.59,141.28 L498.52,141.33 L496.46,141.35 L494.39,141.36 L492.33,141.38 L490.28,141.40 L488.23,141.44 L486.20,141.52 L484.19,141.63 L482.19,141.80 L480.22,142.04 L478.27,142.35 L476.35,142.74 L474.45,143.24 L472.60,143.84 L470.77,144.55 L468.99,145.40 L467.24,146.35 L465.51,147.39 L463.81,148.50 L462.13,149.66 L460.46,150.86 L458.79,152.07 L457.12,153.27 L455.45,154.45 L453.77,155.59 L452.09,156.71 L450.42,157.82 L448.76,158.93 L447.13,160.05 L445.52,161.20 L443.95,162.40 L442.42,163.64 L440.94,164.96 L439.51,166.34 L438.13,167.77 L436.78,169.25 L435.44,170.77 L434.12,172.30 L432.80,173.83 L431.47,175.36 L430.13,176.87 L428.76,178.36 L427.37,179.82 L425.96,181.26 L424.53,182.68 L423.09,184.09 L421.63,185.47 L420.15,186.84 L418.67,188.20 L417.17,189.54 L415.66,190.88 L414.15,192.20 L412.62,193.51 L411.09,194.82 L409.55,196.12 L408.01,197.42 L406.47,198.71 L404.93,200.00 L403.39,201.29 L401.85,202.59 L400.31,203.88 L398.78,205.18 L397.25,206.49 L395.73,207.80 L394.22,209.12 L392.71,210.45 L391.22,211.80 L389.74,213.15 L388.28,214.52 L386.83,215.90 L385.39,217.30 L383.97,218.72 L382.56,220.15 L381.17,221.59 L379.78,223.04 L378.41,224.51 L377.05,225.99 L375.70,227.48 L374.36,228.98 L373.03,230.48 L371.70,232.00 L370.39,233.52 L369.08,235.05 L367.78,236.59 L366.48,238.13 L365.18,239.67 L363.89,241.22 L362.61,242.78 L361.32,244.33 L360.04,245.89 L358.76,247.44 L357.48,249.00 L356.20,250.56 L354.92,252.11 L353.64,253.67 L352.36,255.23 L351.09,256.78 L349.82,258.34 L348.55,259.91 L347.30,261.48 L346.05,263.05 L344.82,264.63 L343.60,266.22 L342.39,267.82 L341.20,269.43 L340.03,271.04 L338.88,272.67 L337.74,274.32 L336.63,275.97 L335.55,277.65 L334.48,279.33 L333.45,281.04 L332.44,282.76 L331.47,284.50 L330.52,286.26 L329.60,288.04 L328.72,289.84 L327.86,291.66 L327.02,293.49 L326.21,295.33 L325.42,297.19 L324.65,299.06 L323.89,300.94 L323.16,302.83 L322.44,304.73 L321.73,306.63 L321.03,308.55 L320.34,310.46 L319.67,312.38 L318.99,314.31 L318.32,316.23 L317.66,318.15 L316.99,320.08 L316.33,322.00 L315.66,323.91 L314.99,325.83 L314.31,327.73 L313.63,329.63 L312.94,331.53 L312.24,333.42 L311.54,335.30 L310.83,337.18 L310.12,339.05 L309.40,340.92 L308.68,342.78 L307.95,344.64 L307.22,346.50 L306.48,348.35 L305.73,350.20 L304.98,352.04 L304.23,353.89 L303.47,355.73 L302.71,357.56 L301.95,359.40 L301.18,361.23 L300.40,363.06 L299.63,364.89 L298.84,366.72 L298.06,368.55 L297.27,370.38 L296.48,372.21 L295.69,374.03 L294.89,375.86 L294.09,377.69 L293.29,379.51 L292.49,381.34 L291.68,383.17 L290.87,385.00 L290.06,386.83 L289.25,388.67 L288.43,390.50 L287.62,392.34 L286.80,394.18 L285.98,396.03 L285.16,397.87 L284.34,399.73 L283.52,401.58 L282.69,403.44 L281.87,405.30 L281.05,407.16 L280.24,409.02 L279.42,410.89 L278.62,412.77 L277.81,414.64 L277.01,416.52 L276.22,418.40 L275.43,420.29 L274.65,422.18 L273.88,424.07 L273.11,425.96 L272.36,427.86 L271.61,429.76 L270.88,431.66 L270.16,433.56 L269.45,435.47 L268.75,437.38 L268.07,439.29 L267.40,441.21 L266.74,443.13 L266.10,445.05 L265.48,446.97 L264.88,448.90 L264.29,450.82 L263.72,452.75 L263.17,454.69 L262.64,456.62 L262.13,458.56 L261.64,460.50 L261.18,462.44 L260.73,464.39 L260.31,466.33 L259.91,468.28 L259.54,470.24 L259.20,472.19 L258.88,474.14 L258.58,476.10 L258.32,478.06 L258.08,480.02 L257.87,481.99 L257.69,483.95 L257.54,485.92 L257.43,487.89 L257.34,489.86 L257.29,491.83 L257.26,493.81 L257.28,495.78 L257.33,497.76 L257.41,499.74 L257.53,501.72 L257.68,503.71 L257.87,505.69 L258.10,507.68 L258.36,509.66 L258.65,511.65 L258.98,513.64 L259.33,515.62 L259.72,517.61 L260.13,519.59 L260.57,521.57 L261.03,523.55 L261.53,525.52 L262.04,527.50 L262.58,529.47 L263.14,531.43 L263.72,533.39 L264.32,535.35 L264.94,537.30 L265.58,539.25 L266.23,541.19 L266.90,543.12 L267.59,545.05 L268.28,546.97 L268.99,548.88 L269.71,550.79 L270.45,552.68 L271.18,554.57 L271.93,556.45 L272.69,558.32 L273.45,560.18 L274.22,562.03 L275.00,563.87 L275.80,565.70 L276.61,567.52 L277.43,569.33 L278.27,571.12 L279.13,572.91 L280.00,574.68 L280.90,576.44 L281.82,578.19 L282.76,579.93 L283.73,581.65 L284.72,583.37 L285.74,585.06 L286.79,586.75 L287.87,588.42 L288.97,590.08 L290.10,591.73 L291.24,593.37 L292.41,595.00 L293.60,596.62 L294.80,598.23 L296.02,599.83 L297.25,601.42 L298.50,603.01 L299.75,604.59 L301.02,606.16 L302.30,607.72 L303.60,609.27 L304.90,610.82 L306.22,612.35 L307.55,613.88 L308.89,615.39 L310.24,616.90 L311.60,618.39 L312.98,619.88 L314.37,621.35 L315.77,622.81 L317.18,624.26 L318.60,625.69 L320.04,627.11 L321.49,628.52 L322.95,629.92 L324.42,631.30 L325.90,632.67 L327.40,634.02 L328.91,635.36 L330.42,636.69 L331.96,637.99 L333.50,639.29 L335.05,640.56 L336.62,641.82 L338.20,643.06 L339.79,644.28 L341.40,645.49 L343.01,646.68 L344.64,647.85 L346.28,649.00 L347.93,650.13 L349.59,651.25 L351.26,652.36 L352.94,653.44 L354.63,654.52 L356.33,655.58 L358.03,656.63 L359.75,657.66 L361.47,658.69 L363.20,659.70 L364.93,660.71 L366.68,661.70 L368.42,662.68 L370.18,663.66 L371.93,664.63 L373.70,665.59 L375.46,666.55 L377.23,667.50 L379.01,668.45 L380.78,669.39 L382.56,670.33 L384.34,671.27 L386.12,672.20 L387.91,673.14 L389.69,674.07 L391.48,674.99 L393.26,675.92 L395.05,676.84 L396.85,677.75 L398.64,678.66 L400.44,679.56 L402.24,680.45 L404.04,681.34 L405.85,682.21 L407.66,683.08 L409.48,683.94 L411.30,684.78 L413.13,685.62 L414.96,686.44 L416.80,687.25 L418.64,688.04 L420.49,688.82 L422.34,689.58 L424.20,690.33 L426.07,691.06 L427.94,691.77 L429.82,692.47 L431.71,693.14 L433.61,693.80 L435.51,694.43 L437.43,695.05 L439.35,695.64 L441.28,696.21 L443.22,696.76 L445.16,697.28 L447.12,697.78 L449.08,698.25 L451.05,698.70 L453.03,699.13 L455.01,699.54 L456.99,699.92 L458.99,700.27 L460.98,700.61 L462.98,700.91 L464.98,701.20 L466.99,701.46 L468.99,701.69 L471.00,701.90 L473.01,702.09 L475.02,702.25 L477.02,702.38 L479.03,702.49 L481.04,702.58 L483.04,702.64 L485.04,702.68 L487.04,702.69 L489.04,702.68 L491.03,702.63 L493.01,702.55 L494.97,702.40 L496.90,702.19 L498.82,701.99 L500.73,701.91 L502.64,702.02 L504.56,702.24 L506.50,702.43 L508.45,702.56 L510.42,702.63 L512.41,702.67 L514.40,702.68 L516.40,702.67 L518.40,702.64 L520.41,702.58 L522.43,702.51 L524.44,702.41 L526.46,702.28 L528.48,702.13 L530.49,701.95 L532.51,701.74 L534.52,701.51 L536.54,701.25 L538.54,700.96 L540.54,700.64 L542.54,700.29 L544.53,699.91 L546.51,699.50 L548.48,699.05 L550.44,698.58 L552.39,698.07 L554.33,697.52 L556.25,696.95 L558.16,696.33 L560.06,695.68 L561.94,695.00 L563.80,694.28 L565.66,693.53 L567.50,692.76 L569.33,691.96 L571.16,691.15 L572.98,690.31 L574.79,689.47 L576.60,688.61 L578.41,687.75 L580.22,686.89 L582.03,686.02 L583.84,685.16 L585.66,684.31 L587.48,683.46 L589.31,682.62 L591.15,681.79 L592.98,680.97 L594.82,680.15 L596.66,679.34 L598.51,678.52 L600.35,677.71 L602.19,676.89 L604.03,676.07 L605.87,675.24 L607.71,674.41 L609.54,673.56 L611.36,672.71 L613.18,671.85 L614.99,670.97 L616.80,670.08 L618.60,669.17 L620.38,668.26 L622.17,667.32 L623.94,666.37 L625.71,665.41 L627.46,664.44 L629.21,663.45 L630.96,662.44 L632.69,661.43 L634.42,660.39 L636.13,659.35 L637.84,658.29 L639.54,657.21 L641.23,656.12 L642.91,655.02 L644.59,653.91 L646.25,652.78 L647.90,651.63 L649.55,650.47 L651.19,649.30 L652.81,648.12 L654.43,646.92 L656.04,645.71 L657.64,644.48 L659.22,643.24 L660.80,641.99 L662.37,640.73 L663.93,639.45 L665.48,638.16 L667.02,636.86 L668.54,635.54 L670.06,634.22 L671.57,632.88 L673.06,631.53 L674.54,630.16 L676.02,628.79 L677.48,627.40 L678.93,626.00 L680.37,624.59 L681.80,623.17 L683.22,621.74 L684.62,620.30 L686.02,618.84 L687.40,617.37 L688.77,615.90 L690.13,614.41 L691.48,612.91 L692.81,611.40 L694.13,609.89 L695.44,608.36 L696.74,606.82 L698.03,605.27 L699.30,603.71 L700.56,602.14 L701.80,600.56 L703.04,598.97 L704.26,597.38 L705.47,595.77 L706.66,594.15 L707.84,592.53 L709.01,590.89 L710.16,589.25 L711.30,587.60 L712.43,585.94 L713.54,584.27 L714.64,582.59 L715.72,580.90 L716.79,579.20 L717.84,577.50 L718.88,575.78 L719.90,574.06 L720.90,572.33 L721.89,570.59 L722.86,568.83 L723.81,567.07 L724.74,565.30 L725.66,563.52 L726.56,561.73 L727.44,559.93 L728.30,558.13 L729.14,556.31 L729.96,554.48 L730.76,552.64 L731.54,550.79 L732.30,548.93 L733.04,547.06 L733.75,545.19 L734.45,543.30 L735.12,541.40 L735.77,539.49 L736.40,537.57 L737.01,535.64 L737.59,533.70 L738.15,531.75 L738.68,529.79 L739.19,527.82 L739.67,525.85 L740.13,523.87 L740.56,521.88 L740.97,519.89 L741.35,517.89 L741.70,515.89 L742.02,513.88 L742.32,511.87 L742.59,509.86 L742.82,507.85 L743.03,505.83 L743.21,503.82 L743.36,501.80 L743.48,499.79 L743.57,497.78 L743.63,495.76 L743.66,493.75 L743.65,491.75 L743.61,489.75 L743.54,487.75 L743.44,485.75 L743.30,483.77 L743.13,481.78 L742.93,479.80 L742.70,477.83 L742.44,475.86 L742.15,473.90 L741.84,471.94 L741.49,469.98 L741.12,468.03 L740.73,466.08 L740.30,464.14 L739.86,462.20 L739.39,460.26 L738.90,458.33 L738.38,456.40 L737.85,454.48 L737.29,452.56 L736.72,450.64 L736.12,448.73 L735.51,446.82 L734.88,444.91 L734.23,443.01 L733.57,441.11 L732.89,439.21 L732.20,437.31 L731.50,435.42 L730.78,433.53 L730.05,431.65 L729.31,429.76 L728.56,427.88 L727.80,426.00 L727.03,424.12 L726.25,422.25 L725.47,420.38 L724.67,418.51 L723.88,416.64 L723.08,414.77 L722.27,412.91 L721.46,411.05 L720.65,409.19 L719.83,407.33 L719.02,405.47 L718.20,403.61 L717.38,401.76 L716.57,399.90 L715.76,398.05 L714.95,396.20 L714.14,394.35 L713.33,392.50 L712.53,390.65 L711.73,388.80 L710.93,386.95 L710.14,385.11 L709.35,383.26 L708.56,381.42 L707.77,379.57 L706.99,377.72 L706.20,375.88 L705.42,374.03 L704.65,372.19 L703.87,370.34 L703.10,368.50 L702.33,366.65 L701.56,364.80 L700.80,362.96 L700.03,361.11 L699.27,359.26 L698.51,357.41 L697.76,355.56 L697.01,353.71 L696.25,351.86 L695.50,350.01 L694.76,348.15 L694.01,346.30 L693.27,344.44 L692.53,342.58 L691.79,340.72 L691.05,338.86 L690.32,337.00 L689.59,335.13 L688.86,333.27 L688.13,331.40 L687.41,329.53 L686.68,327.66 L685.96,325.78 L685.24,323.90 L684.52,322.02 L683.81,320.14 L683.09,318.26 L682.38,316.37 L681.67,314.48 L680.96,312.59 L680.26,310.69 L679.55,308.80 L678.84,306.90 L678.12,305.01 L677.40,303.11 L676.67,301.23 L675.93,299.34 L675.18,297.46 L674.42,295.59 L673.64,293.73 L672.85,291.88 L672.04,290.04 L671.20,288.20 L670.35,286.39 L669.47,284.58 L668.57,282.79 L667.64,281.02 L666.68,279.27 L665.69,277.53 L664.67,275.81 L663.61,274.12 L662.52,272.45 L661.40,270.79 L660.24,269.16 L659.06,267.54 L657.85,265.94 L656.61,264.36 L655.36,262.79 L654.08,261.23 L652.79,259.68 L651.48,258.14 L650.16,256.61 L648.82,255.09 L647.48,253.57 L646.14,252.06 L644.79,250.55 L643.43,249.04 L642.08,247.53 L640.73,246.02 L639.39,244.51 L638.05,242.99 L636.72,241.46 L635.41,239.93 L634.11,238.40 L632.82,236.85 L631.53,235.30 L630.26,233.75 L628.99,232.20 L627.71,230.65 L626.44,229.11 L625.16,227.57 L623.88,226.04 L622.58,224.52 L621.27,223.01 L619.95,221.52 L618.60,220.04 L617.24,218.59 L615.85,217.15 L614.44,215.74 L612.99,214.36 L611.52,213.00 L610.02,211.66 L608.50,210.34 L606.97,209.03 L605.41,207.74 L603.85,206.46 L602.28,205.18 L600.71,203.90 L599.14,202.62 L597.57,201.34 L596.00,200.05 L594.45,198.76 L592.91,197.45 L591.37,196.14 L589.84,194.82 L588.32,193.49 L586.82,192.15 L585.32,190.81 L583.83,189.45 L582.35,188.09 L580.88,186.72 L579.42,185.34 L577.97,183.95 L576.54,182.55 L575.11,181.14 L573.70,179.72 L572.30,178.30 L570.91,176.86 L569.53,175.42 L568.17,173.96 L566.80,172.51 L565.44,171.05 L564.07,169.60 L562.69,168.17 L561.28,166.74 L559.86,165.34 L558.41,163.97 L556.92,162.62 L555.41,161.29 L553.87,160.00 L552.30,158.73 L550.71,157.49 L549.09,156.28 L547.45,155.11 L545.78,153.96 L544.10,152.84 L542.40,151.75 L540.67,150.69 L538.93,149.67 L537.18,148.68 L535.41,147.72 L533.62,146.80 L531.82,145.94 L529.99,145.12 L528.16,144.36 L526.30,143.66 L524.43,143.03 L522.54,142.47 L520.63,142.00 L518.70,141.60 L516.75,141.30 L514.78,141.09 L512.80,140.98 L510.79,140.95 L508.77,140.97 L506.74,141.03 L504.70,141.12 L502.65,141.21 L500.59,141.28Z" fill="none" stroke="#000" stroke-width="5.5" stroke-linejoin="round"/>
<text x="20.2" y="149.5" text-anchor="middle" font-size="16" letter-spacing="-0.75">90°</text><text x="20.2" y="278.5" text-anchor="middle" font-size="16" letter-spacing="-0.75">75°</text><text x="20.2" y="426.5" text-anchor="middle" font-size="16" letter-spacing="-0.75">60°</text><text x="20.2" y="629.5" text-anchor="middle" font-size="16" letter-spacing="-0.75">45°</text><text x="980.2" y="149.5" text-anchor="middle" font-size="16" letter-spacing="-0.75">90°</text><text x="980.2" y="278.5" text-anchor="middle" font-size="16" letter-spacing="-0.75">75°</text><text x="980.2" y="426.5" text-anchor="middle" font-size="16" letter-spacing="-0.75">60°</text><text x="980.2" y="629.5" text-anchor="middle" font-size="16" letter-spacing="-0.75">45°</text><text x="66.3" y="900.5" text-anchor="middle" font-size="16" letter-spacing="-0.75">30°</text><text x="299.5" y="900.5" text-anchor="middle" font-size="16" letter-spacing="-0.75">15°</text><text x="500.0" y="900.5" text-anchor="middle" font-size="16" letter-spacing="-0.75">0°</text><text x="701.0" y="900.5" text-anchor="middle" font-size="16" letter-spacing="-0.75">15°</text><text x="934.0" y="900.5" text-anchor="middle" font-size="16" letter-spacing="-0.75">30°</text><text x="500.5" y="369.5" text-anchor="middle" font-size="16" letter-spacing="-0.5">200</text><text x="500.5" y="479.5" text-anchor="middle" font-size="16" letter-spacing="-0.5">300</text><text x="500.5" y="590.5" text-anchor="middle" font-size="16" letter-spacing="-0.5">400</text><text x="500.5" y="810.5" text-anchor="middle" font-size="16" letter-spacing="-0.5">600</text>
<text x="10" y="937" font-size="19" letter-spacing="-1.45">cd/klm</text>
<text transform="translate(990.5,936.3) scale(0.88,1)" text-anchor="end" font-size="19.8" letter-spacing="0.4">η = 100 %</text>
<line x1="10" y1="962.5" x2="61" y2="962.5" stroke="#ff8000" stroke-width="1"/>
<line x1="10" y1="982.5" x2="61" y2="982.5" stroke="#000" stroke-width="1"/>
<text x="70.5" y="971" font-size="16" letter-spacing="-0.72">C0/C180</text>
<text x="70.5" y="991" font-size="16" letter-spacing="-0.72">C90/C270</text>
</svg>
</body></html>
